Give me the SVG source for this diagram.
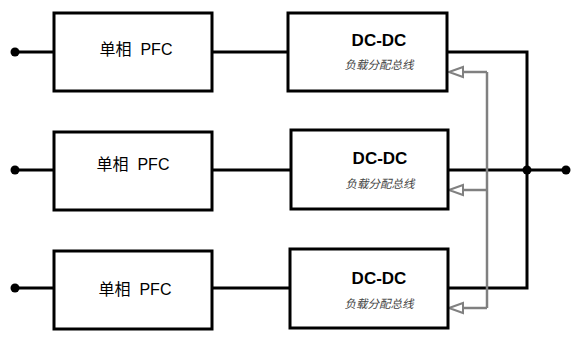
<svg xmlns="http://www.w3.org/2000/svg" width="583" height="340" viewBox="0 0 583 340">
<defs>
<style>
.box{fill:#fff;stroke:#000;stroke-width:3}
.w{stroke:#000;stroke-width:3;fill:none}
.g{stroke:#808080;stroke-width:2.5;fill:none}
.ah{fill:#fff;stroke:#808080;stroke-width:2}
.dot{fill:#000}
.pfc{font-family:"Liberation Sans","Noto Sans CJK SC",sans-serif;font-size:16px;fill:#000;text-anchor:middle;white-space:pre}
.dc{font-family:"Liberation Sans",sans-serif;font-size:17px;font-weight:bold;fill:#000;text-anchor:middle}
.sub{font-family:"Noto Sans CJK SC",sans-serif;font-size:11.5px;font-style:italic;fill:#444;text-anchor:middle}
</style>
</defs>
<rect width="583" height="340" fill="#fff"/>
<g id="connectors">
<path class="w" d="M15,52 H54"/>
<path class="w" d="M15,170 H54"/>
<path class="w" d="M15,288 H54"/>
<path class="w" d="M212,52 H288"/>
<path class="w" d="M212,170 H291"/>
<path class="w" d="M212,288 H290"/>
<path class="w" d="M447,52 H527 V288 H448"/>
<path class="w" d="M448,170 H566"/>
<path class="g" d="M487,72 V308"/>
<path class="g" d="M487,72 H463"/>
<path class="g" d="M487,190 H463"/>
<path class="g" d="M487,308 H463"/>
<polygon class="ah" points="449,72 463,67 463,77"/>
<polygon class="ah" points="449,190 463,185 463,195"/>
<polygon class="ah" points="449,308 463,303 463,313"/>
<circle class="dot" cx="15" cy="52" r="4.5"/>
<circle class="dot" cx="15" cy="170" r="4.5"/>
<circle class="dot" cx="15" cy="288" r="4.5"/>
<circle class="dot" cx="527" cy="170" r="4.5"/>
<circle class="dot" cx="566" cy="170" r="4.5"/>
</g>
<g id="pfc1"><rect class="box" x="54" y="13" width="158" height="78"/><text class="pfc" x="136" y="55" xml:space="preserve">单相  PFC</text></g>
<g id="pfc2"><rect class="box" x="54" y="132" width="158" height="78"/><text class="pfc" x="133" y="170" xml:space="preserve">单相  PFC</text></g>
<g id="pfc3"><rect class="box" x="54" y="251" width="158" height="78"/><text class="pfc" x="135" y="295" xml:space="preserve">单相  PFC</text></g>
<g id="dc1"><rect class="box" x="288" y="13" width="159" height="78"/><text class="dc" x="379" y="46">DC-DC</text><text class="sub" x="379" y="69">负载分配总线</text></g>
<g id="dc2"><rect class="box" x="291" y="130" width="157" height="79"/><text class="dc" x="380" y="164">DC-DC</text><text class="sub" x="380" y="188">负载分配总线</text></g>
<g id="dc3"><rect class="box" x="290" y="249" width="158" height="79"/><text class="dc" x="379" y="284">DC-DC</text><text class="sub" x="379" y="308">负载分配总线</text></g>
</svg>
